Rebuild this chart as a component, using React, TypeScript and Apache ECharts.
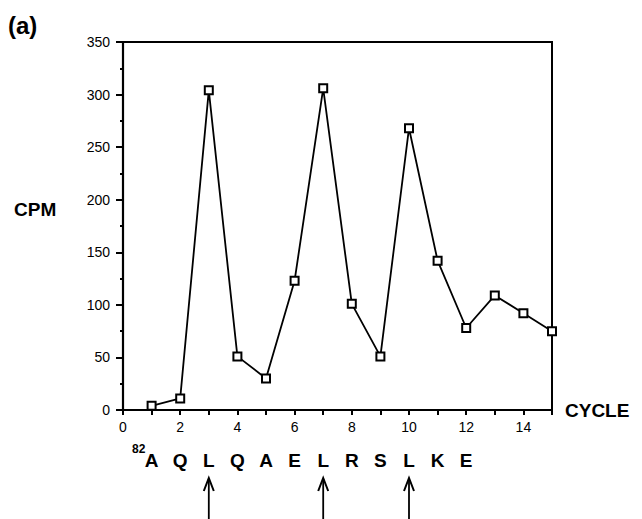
import React, { useEffect, useRef } from "react";
import * as echarts from "echarts";

const cycles = [1, 2, 3, 4, 5, 6, 7, 8, 9, 10, 11, 12, 13, 14, 15];
const cpm = [4, 11, 304, 51, 30, 123, 306, 101, 51, 268, 142, 78, 109, 92, 75];
const residues = ["A", "Q", "L", "Q", "A", "E", "L", "R", "S", "L", "K", "E"];
const arrowCycles = [3, 7, 10];
const yTicks = [0, 50, 100, 150, 200, 250, 300, 350];

const FONT = "'Liberation Sans', Arial, Helvetica, sans-serif";

export default function App() {
  const ref = useRef<HTMLDivElement>(null);
  useEffect(() => {
    document.body.style.margin = "0";
    const chart = echarts.init(ref.current!, null, { renderer: "svg" });
    const option: any = {
      animation: false,
      backgroundColor: "#fff",
      textStyle: { fontFamily: FONT, color: "#000" },
      grid: {
        left: 123,
        right: 90,
        top: 42,
        bottom: 109,
        show: true,
        borderColor: "#000",
        borderWidth: 2,
        containLabel: false,
      },
      graphic: [
        {
          type: "text",
          left: 8,
          top: 13,
          style: { text: "(a)", fontSize: 24, fontWeight: "bold", fontFamily: FONT, fill: "#000" },
        },
        {
          type: "text",
          left: 14,
          top: 200,
          style: { text: "CPM", fontSize: 19, fontWeight: "bold", fontFamily: FONT, fill: "#000" },
        },
        {
          type: "text",
          left: 132,
          top: 443,
          style: { text: "82", fontSize: 12, fontWeight: "bold", fontFamily: FONT, fill: "#000" },
        },
      ],
      xAxis: [
        {
          type: "value",
          min: 0,
          max: 15,
          interval: 1,
          position: "bottom",
          name: "CYCLE",
          nameLocation: "end",
          nameGap: 13,
          nameTextStyle: { fontFamily: FONT, fontWeight: "bold", fontSize: 19, color: "#000", verticalAlign: "middle" },
          axisLine: { show: true, onZero: false, lineStyle: { color: "#000", width: 2.2 } },
          axisTick: { show: true, length: 5, inside: false, lineStyle: { color: "#000", width: 2 } },
          axisLabel: {
            show: true,
            margin: 10,
            fontSize: 14,
            fontFamily: FONT,
            color: "#000",
            formatter: (v: number) => (v % 2 === 0 && v < 15 ? String(v) : ""),
          },
          splitLine: { show: false },
        },
        {
          type: "value",
          min: 0,
          max: 15,
          interval: 1,
          position: "bottom",
          offset: 34,
          axisLine: { show: false },
          axisTick: { show: false },
          axisLabel: {
            show: true,
            margin: 7,
            fontSize: 19,
            fontWeight: "bold",
            fontFamily: FONT,
            color: "#000",
            formatter: (v: number) => (v >= 1 && v <= residues.length ? residues[v - 1] : ""),
          },
          splitLine: { show: false },
        },
      ],
      yAxis: {
        type: "value",
        min: 0,
        max: 350,
        interval: 50,
        axisLine: { show: true, lineStyle: { color: "#000", width: 2.2 } },
        axisTick: { show: true, length: 7, lineStyle: { color: "#000", width: 2 } },
        minorTick: { show: true, splitNumber: 2, length: 3, lineStyle: { color: "#000", width: 2 } },
        axisLabel: {
          margin: 13,
          fontSize: 14,
          fontFamily: FONT,
          color: "#000",
          formatter: (v: number) => (yTicks.indexOf(v) >= 0 ? String(v) : ""),
        },
        splitLine: { show: false },
      },
      series: [
        {
          type: "line",
          xAxisIndex: 0,
          data: cycles.map((c, i) => [c, cpm[i]]),
          symbol: "rect",
          symbolSize: 8,
          clip: false,
          lineStyle: { color: "#000", width: 1.8 },
          itemStyle: { color: "#fff", borderColor: "#000", borderWidth: 2 },
          z: 3,
        },
        {
          type: "custom",
          xAxisIndex: 0,
          clip: false,
          data: arrowCycles.map((c) => [c, 0]),
          renderItem: (params: any, api: any) => {
            const p = api.coord([api.value(0), 0]);
            const x = p[0];
            const y0 = p[1];
            const tip = y0 + 68;
            return {
              type: "group",
              children: [
                {
                  type: "line",
                  shape: { x1: x, y1: tip + 1, x2: x, y2: y0 + 109 },
                  style: { stroke: "#000", lineWidth: 1.8 },
                },
                {
                  type: "polyline",
                  shape: { points: [[x - 5, tip + 13], [x, tip], [x + 5, tip + 13]] },
                  style: { stroke: "#000", lineWidth: 2, fill: null },
                },
              ],
            };
          },
        },
      ],
    };
    chart.setOption(option);
    return () => chart.dispose();
  }, []);
  return <div ref={ref} style={{ width: 642, height: 519 }} />;
}
